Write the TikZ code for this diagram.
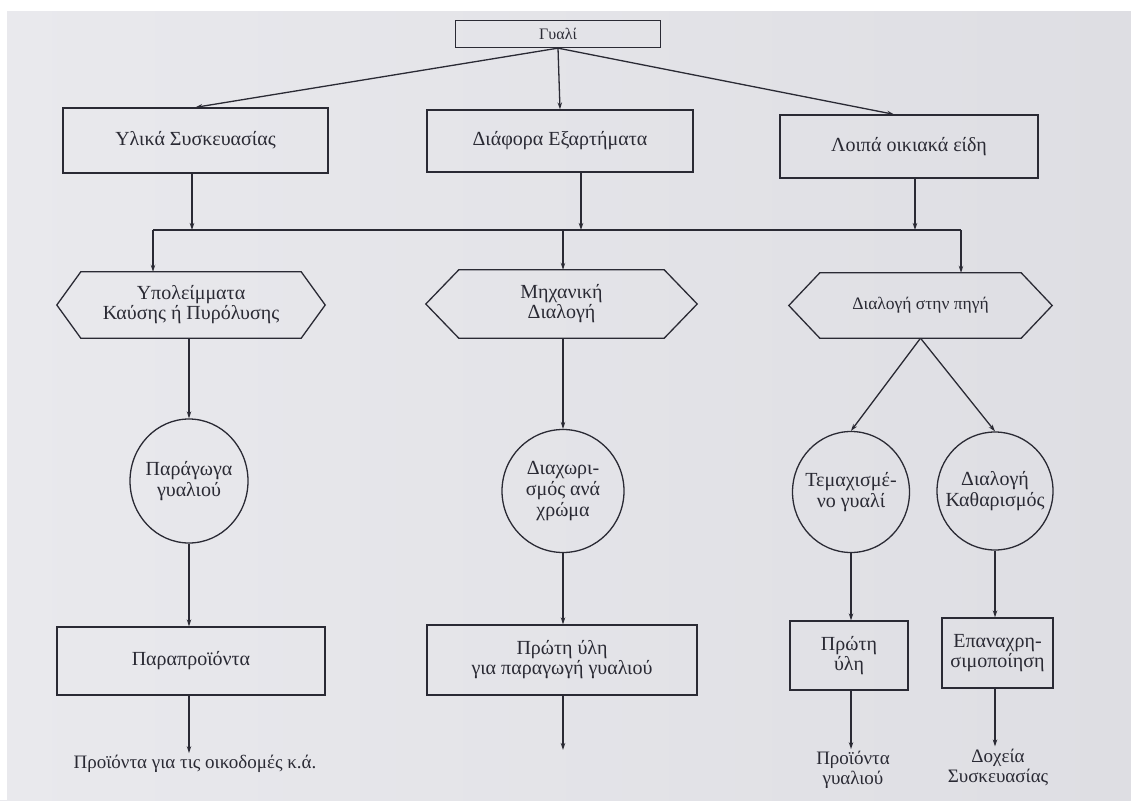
\documentclass[tikz,border=0pt]{standalone}
\usepackage{fontspec}
\setmainfont{Liberation Serif}
\usetikzlibrary{arrows.meta,shapes.geometric}
\definecolor{paperL}{RGB}{233,233,237}
\definecolor{paperR}{RGB}{222,222,227}
\definecolor{ink}{RGB}{42,42,52}
\tikzset{
  line/.style={draw=ink, line width=1.3pt},
  arr/.style={line, -{Stealth[length=7pt,width=4.5pt]}},
  box/.style={line, rectangle, align=center, text=ink, inner sep=2pt,
    font=\fontsize{20}{20}\selectfont},
  hexnode/.style={rectangle, align=center, text=ink, inner sep=0pt,
    font=\fontsize{20}{20}\selectfont},
  oval/.style={line, ellipse, inner sep=0pt},
  ovaltext/.style={align=center, text=ink, inner sep=0pt,
    font=\fontsize{20}{21}\selectfont},
  endtext/.style={align=center, text=ink, inner sep=2pt,
    font=\fontsize{19}{20}\selectfont}
}
\newcommand\hexframe[2]{%
  \draw[line] (#1.west) -- ([xshift=#2]#1.north west) -- ([xshift=-#2]#1.north east)
    -- (#1.east) -- ([xshift=-#2]#1.south east) -- ([xshift=#2]#1.south west) -- cycle;}
\begin{document}
\begin{tikzpicture}[x=1pt,y=-1pt]
\shade[left color=paperL, right color=paperR] (0,0) rectangle (1131,800);
\fill[white] (0,0) rectangle (1131,11);
\fill[white] (0,0) rectangle (7,800);
\useasboundingbox (0,0) rectangle (1131,800);

% top
\node[box, minimum width=205pt, minimum height=27pt, font=\fontsize{16}{16}\selectfont] (gyali) at (558,34) {Γυαλί};

% level 1
\node[box, minimum width=265pt, minimum height=65pt] (ylika) at (195.5,140.5) {Υλικά Συσκευασίας};
\node[box, minimum width=266pt, minimum height=62pt] (diafora) at (560,141) {Διάφορα Εξαρτήματα};
\node[box, minimum width=258pt, minimum height=63pt] (loipa) at (909,146.5) {Λοιπά οικιακά είδη};

\draw[arr] (gyali.south) -- (ylika.north);
\draw[arr] (gyali.south) -- (diafora.north);
\draw[arr] (gyali.south) -- ([xshift=-15pt]loipa.north);

% bus
\coordinate (bl) at (153,230);
\coordinate (br) at (961,230);
\coordinate (b1) at (192,230);
\coordinate (b2) at (581,230);
\coordinate (b3) at (915,230);
\coordinate (bm) at (563,230);
\draw[line] (bl) -- (br);
\draw[arr] (ylika.south -| b1) -- (b1);
\draw[arr] (diafora.south -| b2) -- (b2);
\draw[arr] (loipa.south -| b3) -- (b3);

% hexagons
\node[hexnode, minimum width=268pt, minimum height=66pt] (h1) at (191,305) {Υπολείμματα\\Καύσης ή Πυρόλυσης};
\node[hexnode, minimum width=271pt, minimum height=68pt] (h2) at (561.5,304) {Μηχανική\\Διαλογή};
\node[hexnode, minimum width=263pt, minimum height=65pt, font=\fontsize{17.5}{19}\selectfont] (h3) at (920.5,305.5) {Διαλογή στην πηγή};
\hexframe{h1}{24pt}
\hexframe{h2}{33pt}
\hexframe{h3}{31pt}

\draw[arr] (bl) -- (bl |- h1.north);
\draw[arr] (bm) -- (bm |- h2.north);
\draw[arr] (br) -- (br |- h3.north);

% ovals
\node[oval, minimum width=118pt, minimum height=124pt,
  label={[ovaltext]center:Παράγωγα\\γυαλιού}] (c1) at (189,481) {};
\node[oval, minimum width=122pt, minimum height=123pt,
  label={[ovaltext]center:Διαχωρι-\\σμός ανά\\χρώμα}] (c2) at (563,491) {};
\node[oval, minimum width=117pt, minimum height=121pt,
  label={[ovaltext]center:Τεμαχισμέ-\\νο γυαλί}] (c3) at (851,492) {};
\node[oval, minimum width=116pt, minimum height=118pt,
  label={[ovaltext]center:Διαλογή\\Καθαρισμός}] (c4) at (995,491) {};

\draw[arr] (c1.north |- h1.south) -- (c1.north);
\draw[arr] (c2.north |- h2.south) -- (c2.north);
\draw[arr] (h3.south) -- (c3.north);
\draw[arr] (h3.south) -- (c4.north);

% lower boxes
\node[box, minimum width=268pt, minimum height=68pt] (p1) at (191,661) {Παραπροϊόντα};
\node[box, minimum width=270pt, minimum height=70pt] (p2) at (562,660) {Πρώτη ύλη\\για παραγωγή γυαλιού};
\node[box, minimum width=118pt, minimum height=69pt] (p3) at (849,655.5) {Πρώτη\\ύλη};
\node[box, minimum width=111pt, minimum height=70pt] (p4) at (997.5,653) {Επαναχρη-\\σιμοποίηση};

\draw[arr] (c1.south) -- (c1.south |- p1.north);
\draw[arr] (c2.south) -- (c2.south |- p2.north);
\draw[arr] (c3.south) -- (c3.south |- p3.north);
\draw[arr] (c4.south) -- (c4.south |- p4.north);

% outputs
\node[endtext] (t1) at (195,764) {Προϊόντα για τις οικοδομές κ.ά.};
\coordinate (e2) at (563,750);
\node[endtext] (t3) at (853,770) {Προϊόντα\\γυαλιού};
\node[endtext] (t4) at (998,767) {Δοχεία\\Συσκευασίας};

\draw[arr] (c1.south |- p1.south) -- (c1.south |- t1.north);
\draw[arr] (c2.south |- p2.south) -- (e2);
\draw[arr] (c3.south |- p3.south) -- (c3.south |- t3.north);
\draw[arr] (c4.south |- p4.south) -- (c4.south |- t4.north);
\end{tikzpicture}
\end{document}
